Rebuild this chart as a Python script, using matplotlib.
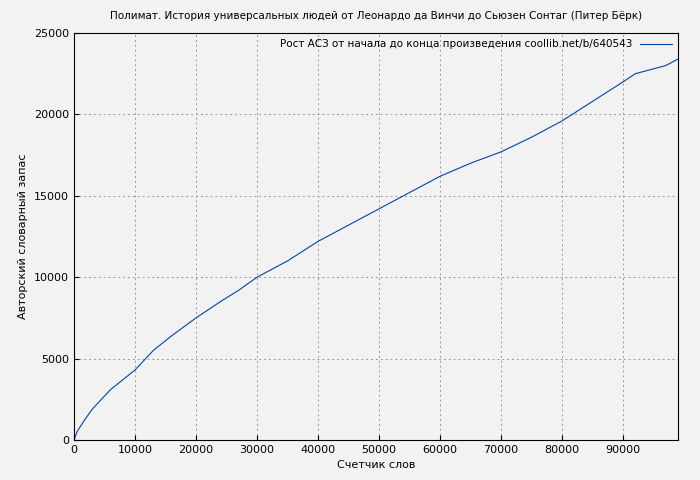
import matplotlib
matplotlib.use('Agg')
import matplotlib.pyplot as plt

words = [0, 500, 1500, 3000, 6000, 10000, 13000, 16000, 20000, 24000, 27000, 30000,
         35000, 40000, 45000, 50000, 55000, 60000, 65000, 70000, 75000, 80000,
         85000, 90000, 92000, 95000, 97000, 99000]
vocab = [0, 500, 1100, 1900, 3100, 4300, 5500, 6400, 7500, 8500, 9200, 10000,
         11000, 12200, 13200, 14200, 15200, 16200, 17000, 17700, 18600, 19600,
         20800, 22000, 22500, 22800, 23000, 23400]

fig = plt.figure(figsize=(7, 4.8), dpi=100, facecolor='#f2f2f2')
ax = fig.add_axes([74/700, 40/480, 604/700, 407/480])
ax.set_facecolor('#f2f2f2')
ax.plot(words, vocab, color='#0044aa', lw=0.8,
        label='Рост АСЗ от начала до конца произведения coollib.net/b/640543')
ax.set_xlim(0, 99000)
ax.set_ylim(0, 25000)
ax.set_xticks(range(0, 100000, 10000))
ax.set_yticks(range(0, 25001, 5000))
ax.grid(True, color='#999999', linestyle=(0, (2, 3)), lw=0.7)
ax.tick_params(labelsize=8, direction='in')
ax.set_xlabel('Счетчик слов', fontsize=8)
ax.set_ylabel('Авторский словарный запас', fontsize=8)
ax.set_title('Полимат. История универсальных людей от Леонардо да Винчи до Сьюзен Сонтаг (Питер Бёрк)',
             fontsize=7.5, pad=10)
ax.legend(loc='upper right', fontsize=7.5, frameon=False, markerfirst=False, handlelength=3,
          borderaxespad=0.2)
fig.savefig('out.png', dpi=100, facecolor=fig.get_facecolor())
